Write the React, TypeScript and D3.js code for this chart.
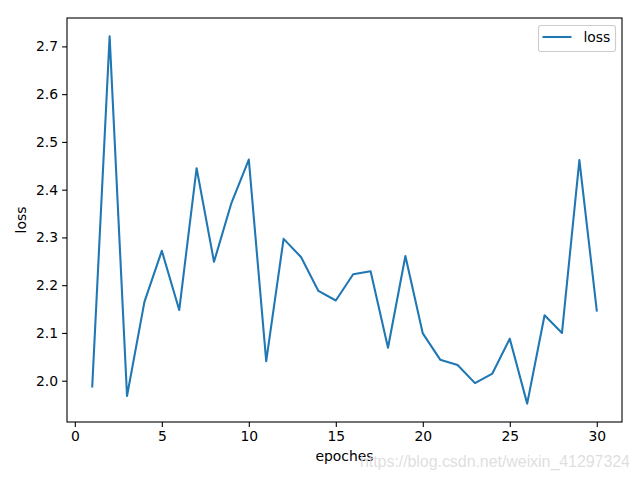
import { useEffect, useRef } from "react";
import * as d3 from "d3";

// ── Tokens ────────────────────────────────────────────────────────────────────

const LINE = "#1f77b4";
const FG = "#000000";
const FONT = "'DejaVu Sans', sans-serif";

// ── Data ──────────────────────────────────────────────────────────────────────

const EPOCHES = d3.range(1, 31);
const LOSS = [
  1.988, 2.721, 1.968, 2.165, 2.272, 2.148, 2.445, 2.249, 2.372, 2.463,
  2.041, 2.297, 2.259, 2.188, 2.168, 2.223, 2.229, 2.069, 2.261, 2.099,
  2.044, 2.033, 1.995, 2.015, 2.088, 1.952, 2.137, 2.100, 2.462, 2.147,
];
const X_TICKS = [0, 5, 10, 15, 20, 25, 30];
const Y_TICKS = [2.0, 2.1, 2.2, 2.3, 2.4, 2.5, 2.6, 2.7];

export default function App() {
  const svgRef = useRef<SVGSVGElement>(null);

  useEffect(() => {
    if (!svgRef.current) return;

    const W = 640, H = 480;
    const m = { top: 18, right: 18, bottom: 58, left: 67 };
    const iw = W - m.left - m.right;
    const ih = H - m.top - m.bottom;

    const svg = d3.select(svgRef.current);
    svg.selectAll("*").remove();
    svg.attr("viewBox", `0 0 ${W} ${H}`);

    svg.append("rect").attr("width", W).attr("height", H).attr("fill", "#fff");

    const g = svg.append("g").attr("transform", `translate(${m.left},${m.top})`);

    // matplotlib-style 5% margins
    const xPad = (30 - 1) * 0.05;
    const yMin = d3.min(LOSS)!, yMax = d3.max(LOSS)!;
    const yPad = (yMax - yMin) * 0.05;

    const x = d3.scaleLinear().domain([1 - xPad, 30 + xPad]).range([0, iw]);
    const y = d3.scaleLinear().domain([yMin - yPad, yMax + yPad]).range([ih, 0]);

    const data = EPOCHES.map((e, i) => ({ e, v: LOSS[i] }));

    // Line
    g.append("path")
      .datum(data)
      .attr("fill", "none")
      .attr("stroke", LINE)
      .attr("stroke-width", 2.08)
      .attr("stroke-linejoin", "round")
      .attr("stroke-linecap", "square")
      .attr("d", d3.line<{ e: number; v: number }>().x(d => x(d.e)).y(d => y(d.v)));

    // X axis
    g.append("g")
      .attr("transform", `translate(0,${ih})`)
      .call(d3.axisBottom(x).tickValues(X_TICKS).tickSize(4.9).tickPadding(4).tickFormat(d3.format("d")))
      .call(gg => gg.select(".domain").remove())
      .call(gg => gg.selectAll("line").attr("stroke", FG).attr("stroke-width", 1.1))
      .call(gg => gg.selectAll("text")
        .attr("fill", FG)
        .attr("font-size", "13.9px")
        .attr("font-family", FONT));

    // Y axis
    g.append("g")
      .call(d3.axisLeft(y).tickValues(Y_TICKS).tickSize(4.9).tickPadding(4).tickFormat(d3.format(".1f")))
      .call(gg => gg.select(".domain").remove())
      .call(gg => gg.selectAll("line").attr("stroke", FG).attr("stroke-width", 1.1))
      .call(gg => gg.selectAll("text")
        .attr("fill", FG)
        .attr("font-size", "13.9px")
        .attr("font-family", FONT));

    // Spines
    g.append("rect")
      .attr("width", iw)
      .attr("height", ih)
      .attr("fill", "none")
      .attr("stroke", FG)
      .attr("stroke-width", 1.1);

    // Axis labels
    svg.append("text")
      .attr("x", m.left + iw / 2)
      .attr("y", 461)
      .attr("text-anchor", "middle")
      .attr("fill", FG)
      .attr("font-size", "13.9px")
      .attr("font-family", FONT)
      .text("epoches");

    svg.append("text")
      .attr("transform", `translate(26,${m.top + ih / 2}) rotate(-90)`)
      .attr("text-anchor", "middle")
      .attr("fill", FG)
      .attr("font-size", "13.9px")
      .attr("font-family", FONT)
      .text("loss");

    // Legend
    const lg = svg.append("g").attr("transform", "translate(538.5,25.5)");
    lg.append("rect")
      .attr("width", 77)
      .attr("height", 26)
      .attr("rx", 2.5)
      .attr("fill", "#fff")
      .attr("fill-opacity", 0.8)
      .attr("stroke", "#cccccc")
      .attr("stroke-width", 1.1);
    lg.append("line")
      .attr("x1", 4).attr("x2", 33)
      .attr("y1", 11.5).attr("y2", 11.5)
      .attr("stroke", LINE)
      .attr("stroke-width", 2.08);
    lg.append("text")
      .attr("x", 45)
      .attr("y", 16.5)
      .attr("fill", FG)
      .attr("font-size", "13.9px")
      .attr("font-family", FONT)
      .text("loss");

    // Watermark
    svg.append("text")
      .attr("x", 360)
      .attr("y", 466.5)
      .attr("fill", "#d9d9d9")
      .attr("fill-opacity", 0.85)
      .attr("font-size", "16px")
      .attr("font-family", "'Liberation Sans', Arial, sans-serif")
      .attr("textLength", 270)
      .text("https://blog.csdn.net/weixin_41297324");
  }, []);

  return (
    <svg
      ref={svgRef}
      width={640}
      height={480}
      style={{ position: "absolute", left: 0, top: 0, display: "block" }}
    />
  );
}
